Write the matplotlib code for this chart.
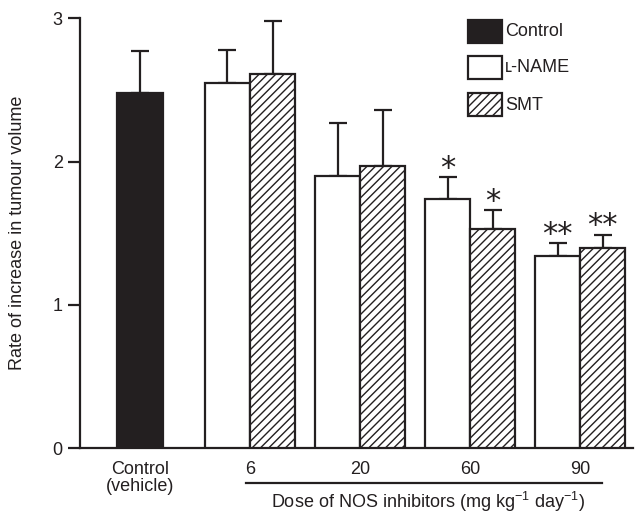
import matplotlib
matplotlib.use("Agg")
import matplotlib.pyplot as plt
import matplotlib.transforms as mtransforms
from matplotlib.patches import Rectangle
import numpy as np

plt.rcParams['font.family'] = ['Liberation Sans', 'DejaVu Sans']
plt.rcParams['mathtext.fontset'] = 'custom'
plt.rcParams['mathtext.rm'] = 'Liberation Sans'
plt.rcParams['mathtext.it'] = 'Liberation Sans:italic'
plt.rcParams['hatch.linewidth'] = 1.0

# Data
doses = ["6", "20", "60", "90"]
control_value = 2.48
control_err = 0.29
lname_values = [2.55, 1.90, 1.74, 1.34]
lname_err = [0.23, 0.37, 0.15, 0.09]
smt_values = [2.61, 1.97, 1.53, 1.40]
smt_err = [0.37, 0.39, 0.13, 0.09]
lname_stars = ["", "", "*", "**"]
smt_stars = ["", "", "*", "**"]
legend_labels = ["Control", "\u029f-NAME", "SMT"]

FS = 13
INK = '#231f20'

fig = plt.figure(figsize=(6.35, 5.13), dpi=100)
ax = fig.add_axes([0.126, 0.1267, 0.871, 0.8373])

bw = 0.41
lw = 1.6
x_groups = np.arange(1, len(doses) + 1)

ax.bar([0], [control_value], width=bw, color=INK, edgecolor=INK, linewidth=lw, zorder=3)
ax.bar(x_groups - bw / 2, lname_values, width=bw, color='white', edgecolor=INK, linewidth=lw, zorder=3)
ax.bar(x_groups + bw / 2, smt_values, width=bw, color='white', edgecolor=INK, linewidth=lw, hatch='////', zorder=3)

ekw = dict(fmt='none', ecolor=INK, elinewidth=1.6, capsize=6.5, capthick=1.6, zorder=2)
ax.errorbar([0], [control_value], yerr=[[0], [control_err]], **ekw)
ax.errorbar(x_groups - bw / 2, lname_values, yerr=[np.zeros(4), lname_err], **ekw)
ax.errorbar(x_groups + bw / 2, smt_values, yerr=[np.zeros(4), smt_err], **ekw)

for xs, vals, errs, stars in [(x_groups - bw / 2, lname_values, lname_err, lname_stars),
                              (x_groups + bw / 2, smt_values, smt_err, smt_stars)]:
    for xv, v, e, s in zip(xs, vals, errs, stars):
        if s:
            ax.annotate(s, xy=(xv, v + e), xytext=(0, -4), textcoords='offset points',
                        ha='center', va='bottom', fontsize=22, family='DejaVu Sans', color=INK)

ax.set_xlim(-0.545, 4.48)
ax.set_ylim(0, 3)
ax.set_yticks([0, 1, 2, 3])
ax.set_xticks([0] + list(x_groups))
ax.set_xticklabels(["Control\n(vehicle)"] + doses)
ax.tick_params(axis='x', length=0, pad=9, labelsize=FS, colors=INK)
ax.tick_params(axis='y', length=9, width=1.6, pad=3.5, labelsize=FS, direction='out', colors=INK)
for t in ax.get_xticklabels():
    t.set_linespacing(1.0)
for sp in ['top', 'right']:
    ax.spines[sp].set_visible(False)
for sp in ['left', 'bottom']:
    ax.spines[sp].set_linewidth(1.6)
    ax.spines[sp].set_color(INK)

ax.set_ylabel("Rate of increase in tumour volume", fontsize=FS, color=INK)
ax.yaxis.set_label_coords(-0.097, 0.5)

trans = mtransforms.blended_transform_factory(ax.transData, ax.transAxes)
ax.plot([0.96, 4.2], [-0.0815, -0.0815], transform=trans, color=INK, lw=1.6, clip_on=False)
ax.text(2.62, -0.126, r"Dose of NOS inhibitors (mg kg$^{-1}$ day$^{-1}$)", transform=trans,
        ha='center', va='center', fontsize=FS, color=INK)

# Legend (manual)
def fig_px(x, y):
    return x / 635, 1 - y / 513

leg_styles = [(INK, None, 20), ('white', None, 56), ('white', '////', 93)]
for label, (fc, hatch, ytop) in zip(legend_labels, leg_styles):
    x0, y0 = fig_px(468, ytop + 23)
    r = Rectangle((x0, y0), 34 / 635, 23 / 513, transform=fig.transFigure, facecolor=fc,
                  edgecolor=INK, linewidth=lw, hatch=hatch)
    fig.patches.append(r)
    tx, ty = fig_px(505, ytop + 12)
    fig.text(tx, ty, label, fontsize=FS, va='center', ha='left', color=INK)

fig.savefig("out.png", dpi=100)
